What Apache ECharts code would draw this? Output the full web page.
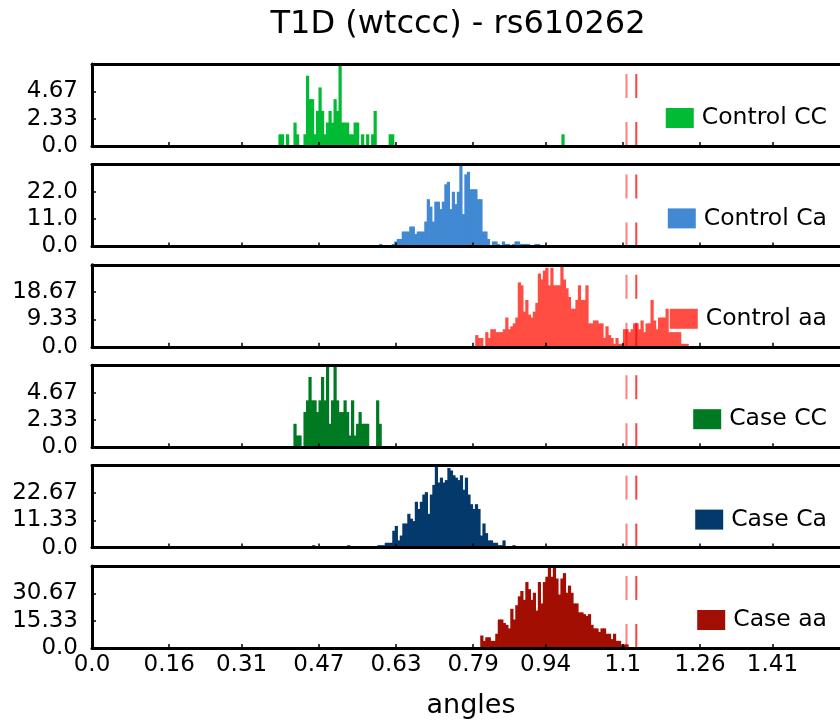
<!DOCTYPE html>
<html><head><meta charset="utf-8">
<script src="https://cdn.jsdelivr.net/npm/echarts@6/dist/echarts.min.js"></script>
<style>html,body{margin:0;padding:0;background:#fff}#c{width:840px;height:721px}</style>
</head><body><div id="c"></div>
<script>
// ---------- data ----------
const TITLE = 'T1D (wtccc) - rs610262';
const X_NAME = 'angles';
const X_MIN = 0;
const X_MAX = Math.PI / 2;
const X_TICKS = [0.0, 0.16, 0.31, 0.47, 0.63, 0.79, 0.94, 1.1, 1.26, 1.41];
const X_TICK_LABELS = ['0.0', '0.16', '0.31', '0.47', '0.63', '0.79', '0.94', '1.1', '1.26', '1.41'];
const BIN_W = 0.00519;
const VLINE_LIGHT = 1.1076;
const VLINE_DARK = 1.1279;

const NAMES = ['Control CC', 'Control Ca', 'Control aa', 'Case CC', 'Case Ca', 'Case aa'];
const COLORS = ['#00bb33', '#4189d2', '#ff4d43', '#007a22', '#043a6b', '#a30e03'];
const Y_MAX = [7, 33, 28, 7, 34, 46];
const Y_TICK_LABELS = [
  ['0.0', '2.33', '4.67'],
  ['0.0', '11.0', '22.0'],
  ['0.0', '9.33', '18.67'],
  ['0.0', '2.33', '4.67'],
  ['0.0', '11.33', '22.67'],
  ['0.0', '15.33', '30.67']
];
const BIN_START = [0.3863, 0.5951, 0.7941, 0.4174, 0.4561, 0.8045];

const controlCC = [1,1,0,1,0,0,2,1,0,0, 1,6,4,4,1,3,5,3,1,2, 3,2,4,3,7,2,2,2,1,1, 2,2,0,1,0,1,0,1,3,0, 0,0,0,0,1,1,
  0,0,0,0,0,0,0,0,0,0, 0,0,0,0,0,0,0,0,0,0, 0,0,0,0,0,0,0,0,0,0, 0,0,0,0,0,0,0,0,0,0,
  0,0,0,0,0,0,0,0,0,0, 0,0,0,0,0,0,0,0,0,0, 0,0,0,0,0,0,0, 1];
const controlCa = [1,0,0,0,0,1,2,3,3,6, 6,6,8,8,5,6,6,6,10,19, 16,10,18,18,15,18,25,26,15,22, 17,22,33,13,29,30,23,23,23,19,
  19,6,6,3,0,2,2,1,0,2, 1,1,0,1,2,2,1,1,1,1, 0,0,1,1];
const controlAa = [4,3,3,0,5,3,6,6,5,5, 5,6,10,6,7,8,10,22,21,12, 16,11,10,12,15,25,23,26,27,21, 27,21,21,21,28,23,20,17,13,13,
  16,21,16,16,21,8,8,9,9,8, 8,3,7,4,3,1,3,1,1,6, 6,5,6,8,8,6,9,5,8,8, 16,9,6,10,10,10,13,5,5,5, 5,5,1,1,1];
const caseCC = [2,1,1,0,3,4,6,4,4,3, 4,6,4,7,2,4,7,4,3,3, 4,3,1,4,1,2,3,2,2,2, 0,0,0,4,2];
const caseCa = [1,0,0,0,0,0,0,0,0,0, 0,0,0,0,1,0,0,0,0,0, 0,0,0,0,0,0,
  1,1,1,2,2,2,7,9,3,5, 10,10,14,12,11,19,16,19,22,23, 14,22,26,34,27,29,27,28,33,32, 30,29,28,30,24,29,22,18,16,18,
  16,5,10,6,3,3,2,2,1,1, 3,0,0,0,1];
const caseAa = [7,4,6,6,4,4,8,16,16,14, 13,11,22,16,24,29,32,27,37,33, 27,31,21,37,25,37,40,46,40,46, 39,30,39,42,31,35,31,25,25,20,
  20,19,18,19,13,11,11,9,11,11, 8,8,5,8,4,4,2,2,2];
const COUNTS = [controlCC, controlCa, controlAa, caseCC, caseCa, caseAa];

// ---------- chart ----------
const FONT = 'DejaVu Sans';
const chart = echarts.init(document.getElementById('c'), null, {renderer: 'canvas'});
const grids = [], xAxes = [], yAxes = [], series = [], legends = [];
const N = NAMES.length;
for (let i = 0; i < N; i++) {
  const top = 64 + i * 100.4;
  const h = 82;
  grids.push({left: 92, top: top, width: 758, height: h, show: false, outerBoundsMode: 'none', containLabel: false});
  const last = i === N - 1;
  xAxes.push({
    type: 'value', gridIndex: i, min: X_MIN, max: X_MAX, position: 'bottom', z: 10,
    axisLine: {show: true, onZero: false, lineStyle: {color: '#000', width: 3}},
    axisTick: {show: true, inside: true, length: 4, lineStyle: {color: '#000', width: 1.5}, customValues: X_TICKS},
    splitLine: {show: false},
    axisLabel: {show: last, customValues: X_TICKS, margin: 6, fontSize: 23, fontFamily: FONT, color: '#000',
      formatter: v => { const k = X_TICKS.findIndex(t => Math.abs(t - v) < 1e-9); return k >= 0 ? X_TICK_LABELS[k] : ''; }},
    name: last ? X_NAME : '', nameLocation: 'middle', nameGap: 44,
    nameTextStyle: {fontSize: 27, fontFamily: FONT, color: '#000'}
  });
  xAxes.push({
    type: 'value', gridIndex: i, min: X_MIN, max: X_MAX, position: 'top', z: 10,
    axisLine: {show: true, onZero: false, lineStyle: {color: '#000', width: 3}},
    axisTick: {show: false}, axisLabel: {show: false}, splitLine: {show: false}
  });
  const M = Y_MAX[i];
  const yv = [0, M / 3, 2 * M / 3];
  yAxes.push({
    type: 'value', gridIndex: i, min: 0, max: M, z: 10,
    axisLine: {show: true, lineStyle: {color: '#000', width: 3}},
    axisTick: {show: true, inside: true, length: 4, lineStyle: {color: '#000', width: 1.5}, customValues: yv.slice(1)},
    splitLine: {show: false},
    axisLabel: {customValues: yv, margin: 14, fontSize: 23, fontFamily: FONT, color: '#000',
      formatter: v => { const k = yv.findIndex(t => Math.abs(t - v) < 1e-6); return k >= 0 ? Y_TICK_LABELS[i][k] : ''; }}
  });
  const data = [];
  COUNTS[i].forEach((c, k) => {
    if (c > 0) data.push([BIN_START[i] + k * BIN_W, BIN_START[i] + (k + 1) * BIN_W, c]);
  });
  const color = COLORS[i];
  series.push({
    type: 'custom', name: NAMES[i], xAxisIndex: 2 * i, yAxisIndex: i,
    itemStyle: {color: color}, data: data, encode: {x: [0, 1], y: 2},
    renderItem: function (params, api) {
      const p0 = api.coord([api.value(0), api.value(2)]);
      const p1 = api.coord([api.value(1), 0]);
      return {type: 'rect', shape: {x: p0[0], y: p0[1], width: p1[0] - p0[0] + 0.7, height: p1[1] - p0[1]},
        style: {fill: color}};
    }
  });
  series.push({
    type: 'line', xAxisIndex: 2 * i, yAxisIndex: i, symbol: 'none', z: 5, silent: true,
    lineStyle: {color: 'rgba(255,0,0,0.5)', width: 2, type: [24, 24]},
    data: [[VLINE_LIGHT, 0], [VLINE_LIGHT, M]]
  });
  series.push({
    type: 'line', xAxisIndex: 2 * i, yAxisIndex: i, symbol: 'none', z: 5, silent: true,
    lineStyle: {color: 'rgba(255,0,0,0.75)', width: 2, type: [24, 24]},
    data: [[VLINE_DARK, 0], [VLINE_DARK, M]]
  });
  legends.push({
    data: [{name: NAMES[i], icon: 'rect'}], right: 13, top: top + 54 - 12, padding: 0,
    itemWidth: 28, itemHeight: 20, selectedMode: false,
    textStyle: {fontSize: 23.5, fontFamily: FONT, color: '#000', padding: [0, 0, 0, 3]}
  });
}

chart.setOption({
  animation: false,
  backgroundColor: '#fff',
  grid: grids, xAxis: xAxes, yAxis: yAxes, series: series, legend: legends,
  graphic: [{type: 'text', x: 458, y: 25, style: {text: TITLE, font: '32px "DejaVu Sans"', fill: '#000',
    textAlign: 'center', textVerticalAlign: 'middle'}}]
});
</script></body></html>
